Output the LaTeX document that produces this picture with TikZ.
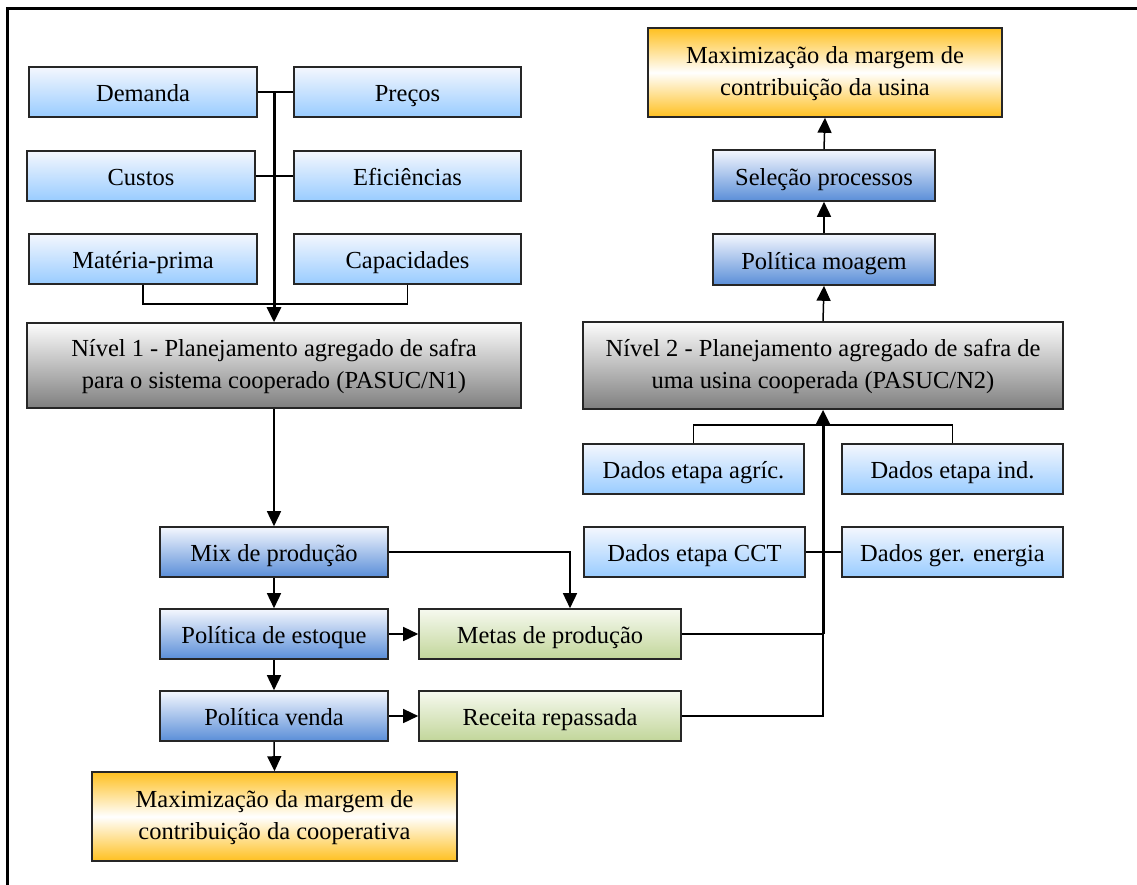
\documentclass[tikz,border=0pt]{standalone}
\usepackage{fontspec}
\setmainfont{Liberation Serif}
\newfontfamily\tnr{Liberation Serif}
\usetikzlibrary{arrows.meta,calc}
\definecolor{lbtop}{HTML}{F4F7FE}
\definecolor{lbbot}{HTML}{99CCFF}
\definecolor{dbtop}{HTML}{F4F7FE}
\definecolor{dbbot}{HTML}{5A8ED8}
\definecolor{grtop}{HTML}{FCFCFC}
\definecolor{grbot}{HTML}{7F7F7F}
\definecolor{ortop}{HTML}{FFC020}
\definecolor{grntop}{HTML}{F6F9EF}
\definecolor{grnbot}{HTML}{C2D69A}
\tikzset{
  box/.style={draw=black!85, line width=1.6pt, inner sep=0pt, align=center,
    font=\tnr\fontsize{24.5}{31.6}\selectfont},
  single/.style={text height=21pt, text depth=2pt},
  double/.style={text height=52.6pt, text depth=7pt},
  lblue/.style={box, single, top color=lbtop, bottom color=lbbot, minimum width=228pt, minimum height=50pt},
  dblue/.style={box, single, top color=dbtop, bottom color=dbbot, minimum width=228pt, minimum height=50pt},
  grey/.style={box, double, top color=grtop, bottom color=grbot},
  orng/.style={box, double, top color=ortop, bottom color=ortop, middle color=white},
  grn/.style={box, single, top color=grntop, bottom color=grnbot, minimum width=262pt, minimum height=50pt},
  conn/.style={line width=1.5pt},
  thickconn/.style={line width=3pt},
  tip/.style={-{Triangle[length=15pt,width=14pt]}},
}
\begin{document}
\begin{tikzpicture}[x=1pt,y=-1pt]
\useasboundingbox (0,0) rectangle (1137,884);
\fill[white] (0,0) rectangle (1137,884);
\draw[line width=3pt] (7.5,890) -- (7.5,8.5) -- (1140,8.5);

% left column inputs
\node[lblue] (dem) at (143,92) {Demanda};
\node[lblue, minimum width=227pt] (pre) at (407.5,92) {Preços};
\node[lblue] (cus) at (141,176) {Custos};
\node[lblue, minimum width=227pt] (efi) at (407.5,176) {Eficiências};
\node[lblue] (mat) at (143,259) {Matéria-prima};
\node[lblue, minimum width=227pt] (cap) at (407.5,259) {Capacidades};

\node[grey, minimum width=494pt, minimum height=85pt] (n1) at (274,365.5)
  {Nível 1 - Planejamento agregado de safra\\para o sistema cooperado (PASUC/N1)};

\node[dblue] (mix) at (274,552) {Mix de produção};
\node[dblue] (est) at (274,634) {Política de estoque};
\node[dblue] (ven) at (274,716) {Política venda};
\node[orng, minimum width=365pt, minimum height=89pt] (maxc) at (274.5,816.5)
  {Maximização da margem de\\contribuição da cooperativa};

\node[grn] (metas) at (550,634) {Metas de produção};
\node[grn] (rec) at (550,716) {Receita repassada};

% right column
\node[orng, minimum width=354pt, minimum height=89pt] (maxu) at (825,72.5)
  {Maximização da margem de\\contribuição da usina};
\node[dblue, minimum width=222pt, minimum height=51pt] (sel) at (824,175.5) {Seleção processos};
\node[dblue, minimum width=222pt, minimum height=51pt] (moa) at (824,259.5) {Política moagem};
\node[grey, minimum width=480pt, minimum height=87pt] (n2) at (823,365.5)
  {Nível 2 - Planejamento agregado de safra de\\uma usina cooperada (PASUC/N2)};

\node[lblue, minimum width=221pt] (agr) at (693.5,469) {Dados etapa agríc.};
\node[lblue, minimum width=221pt] (ind) at (952.5,469) {Dados etapa ind.};
\node[lblue, minimum width=221pt] (cct) at (694.5,552) {Dados etapa CCT};
\node[lblue, minimum width=221pt] (ene) at (952.5,552) {Dados ger. energia};

% left connectors
\draw[conn] (dem.east) -- (pre.west);
\draw[conn] (cus.east) -- (efi.west);
\draw[conn] (mat.south) -- ++(0,19) -| (cap.south);
\draw[thickconn,tip] (n1.north |- dem.east) -- (n1.north);
\draw[conn,tip] (n1.south) -- (mix.north);
\draw[conn,tip] (mix.south) -- (est.north);
\draw[conn,tip] (est.south) -- (ven.north);
\draw[conn,tip] (ven.south) -- (maxc.north);
\draw[conn,tip] (est.east) -- (metas.west);
\draw[conn,tip] (ven.east) -- (rec.west);
\draw[conn,tip] (mix.east) -| ([xshift=20pt]metas.north);

% right connectors
\coordinate (j) at (n2.south |- metas.east);
\draw[conn] (agr.north) -- ++(0,-18) -| (ind.north);
\draw[conn] (cct.east) -- (ene.west);
\draw[conn] (metas.east) -- (j);
\draw[conn] (rec.east) -| (j);
\draw[thickconn,tip] (j) -- (n2.south);
\draw[conn,tip] (n2.north) -- (moa.south);
\draw[conn,tip] (moa.north) -- (sel.south);
\draw[conn,tip] (sel.north) -- (maxu.south);
\end{tikzpicture}
\end{document}
